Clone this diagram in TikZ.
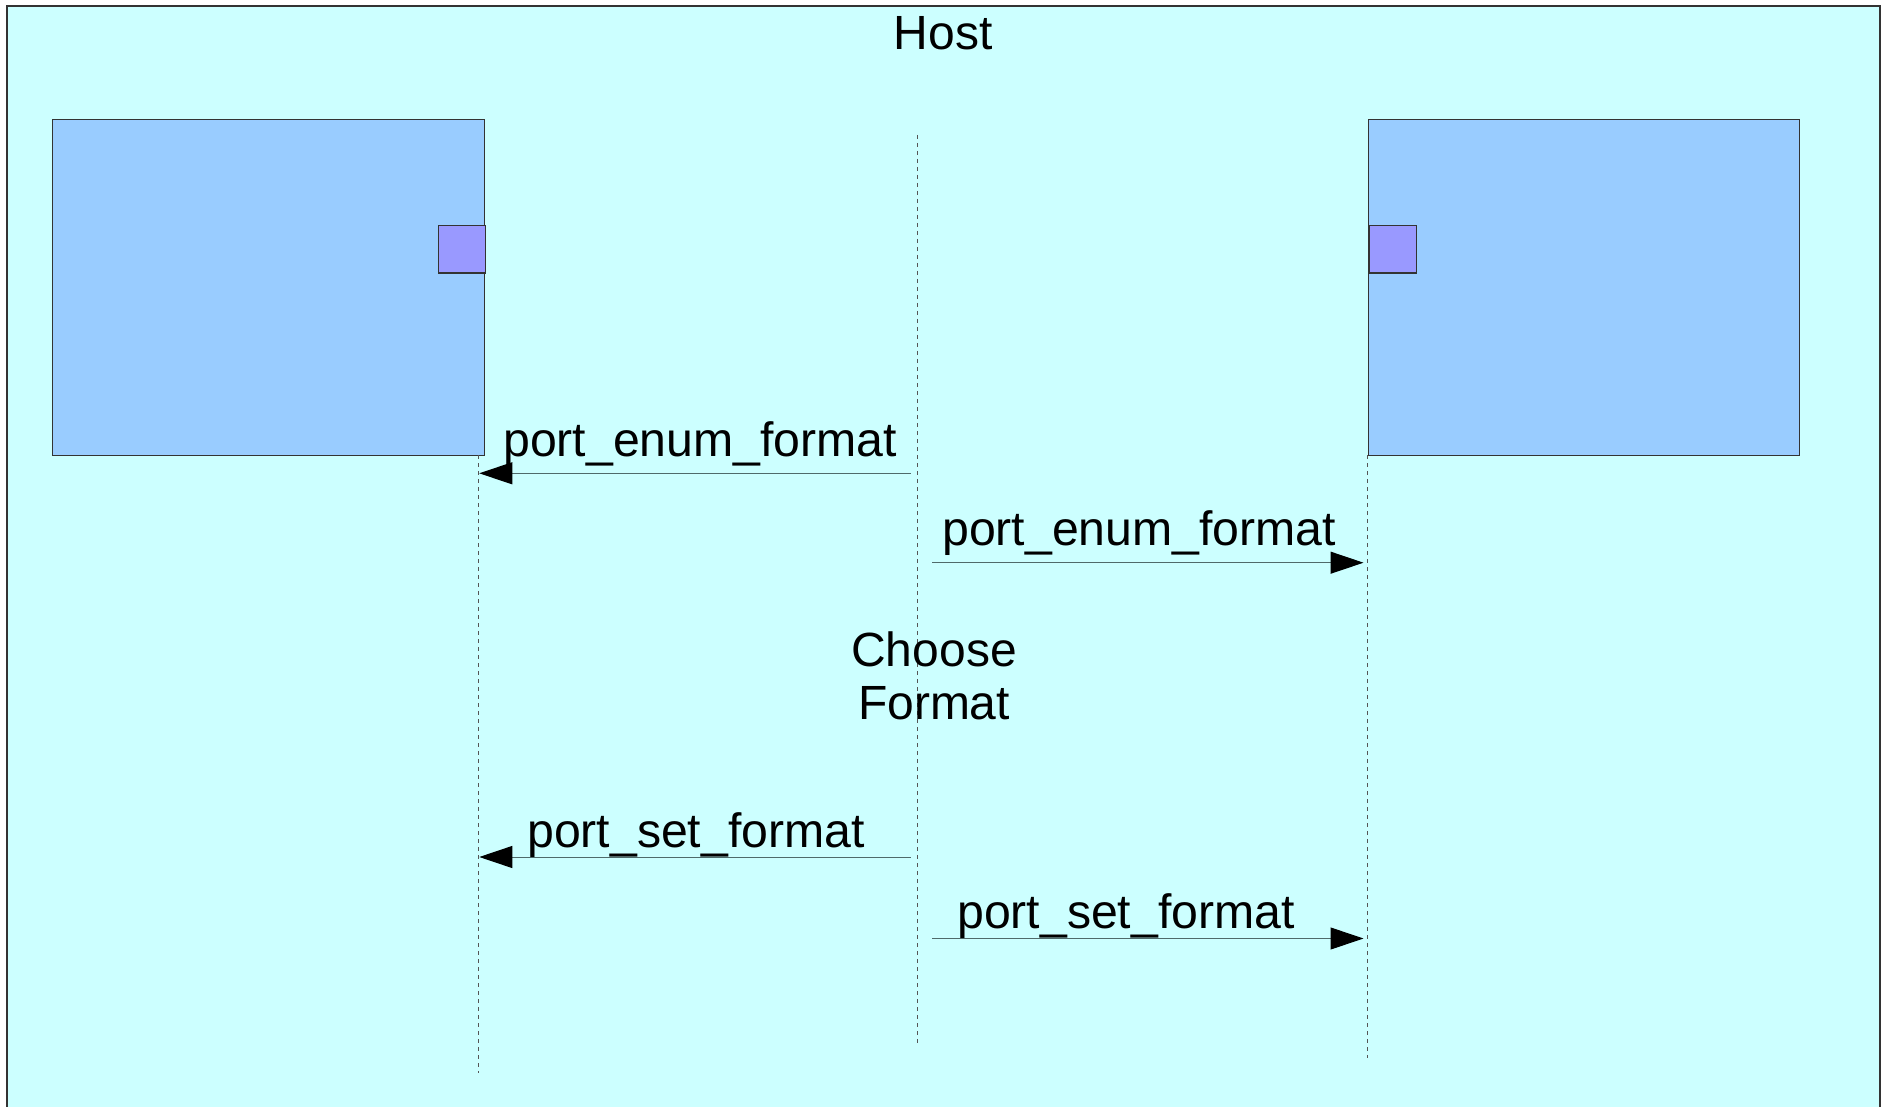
\documentclass[tikz,border=0pt]{standalone}
\usepackage{fontspec}
\setmainfont{Liberation Sans}
\usetikzlibrary{arrows.meta}
\definecolor{hostfill}{HTML}{CCFFFF}
\definecolor{boxfill}{HTML}{99CCFF}
\definecolor{portfill}{HTML}{9999FF}
\definecolor{edge}{HTML}{333333}
\definecolor{msgline}{HTML}{4F6A6A}
\definecolor{lifeline}{HTML}{555555}
\tikzset{
  hostbox/.style={draw=edge, fill=hostfill, line width=1.2pt},
  compbox/.style={draw=edge, fill=boxfill, line width=1pt, inner sep=0pt, anchor=north west},
  portbox/.style={draw=edge, fill=portfill, line width=1.2pt, inner sep=0pt, minimum width=47pt, minimum height=47.5pt, anchor=north west},
  lifel/.style={draw=lifeline, line width=1pt, dash pattern=on 4pt off 4pt},
  msg/.style={draw=msgline, line width=1pt, -{Triangle[length=33pt,width=22pt,black]}},
  lbl/.style={inner sep=0pt, font=\fontsize{48.2}{53}\selectfont, anchor=base west},
  ctr/.style={inner sep=0pt, font=\fontsize{48}{53}\selectfont, anchor=base}
}
\begin{document}
\begin{tikzpicture}[x=1pt,y=-1pt]
\clip (0,0) rectangle (1882,1107);
\useasboundingbox (0,0) rectangle (1882,1107);
% host
\draw[hostbox] (7,6) rectangle (1880,1130);
\node[ctr] (host) at (943,50) {Host};
% components
\node[compbox, minimum width=432.5pt, minimum height=336pt] (left) at (51.7,118.7) {};
\node[compbox, minimum width=431.5pt, minimum height=336pt] (right) at (1367.7,118.7) {};
\node[portbox] (lport) at (438,225) {};
\node[portbox] (rport) at (1368.5,225) {};
% lifelines
\coordinate (lltop) at (478.3,455);
\coordinate (llbot) at (478.3,1073);
\coordinate (mltop) at (917.7,135);
\coordinate (mlbot) at (917.7,1044);
\coordinate (rltop) at (1367.5,455);
\coordinate (rlbot) at (1367.5,1058);
\draw[lifel] (lltop) -- (llbot);
\draw[lifel] (mltop) -- (mlbot);
\draw[lifel] (rltop) -- (rlbot);
% messages
\coordinate (m1s) at (910.7,473.3);
\coordinate (m1e) at (479.3,473.3);
\coordinate (m2s) at (932.3,562.7);
\coordinate (m2e) at (1363.5,562.7);
\coordinate (m3s) at (910.7,857);
\coordinate (m3e) at (479.3,857);
\coordinate (m4s) at (932.3,938.5);
\coordinate (m4e) at (1363.5,938.5);
\draw[msg] (m1s) -- (m1e);
\draw[msg] (m2s) -- (m2e);
\draw[msg] (m3s) -- (m3e);
\draw[msg] (m4s) -- (m4e);
\node[lbl] (l1) at (503,456) {port\_enum\_format};
\node[lbl] (l2) at (942,545.5) {port\_enum\_format};
\node[lbl] (l3) at (527,847) {port\_set\_format};
\node[lbl] (l4) at (957,928) {port\_set\_format};
\node[ctr] (choose) at (934,666) {Choose};
\node[ctr] (format) at (934,719) {Format};
\end{tikzpicture}
\end{document}
